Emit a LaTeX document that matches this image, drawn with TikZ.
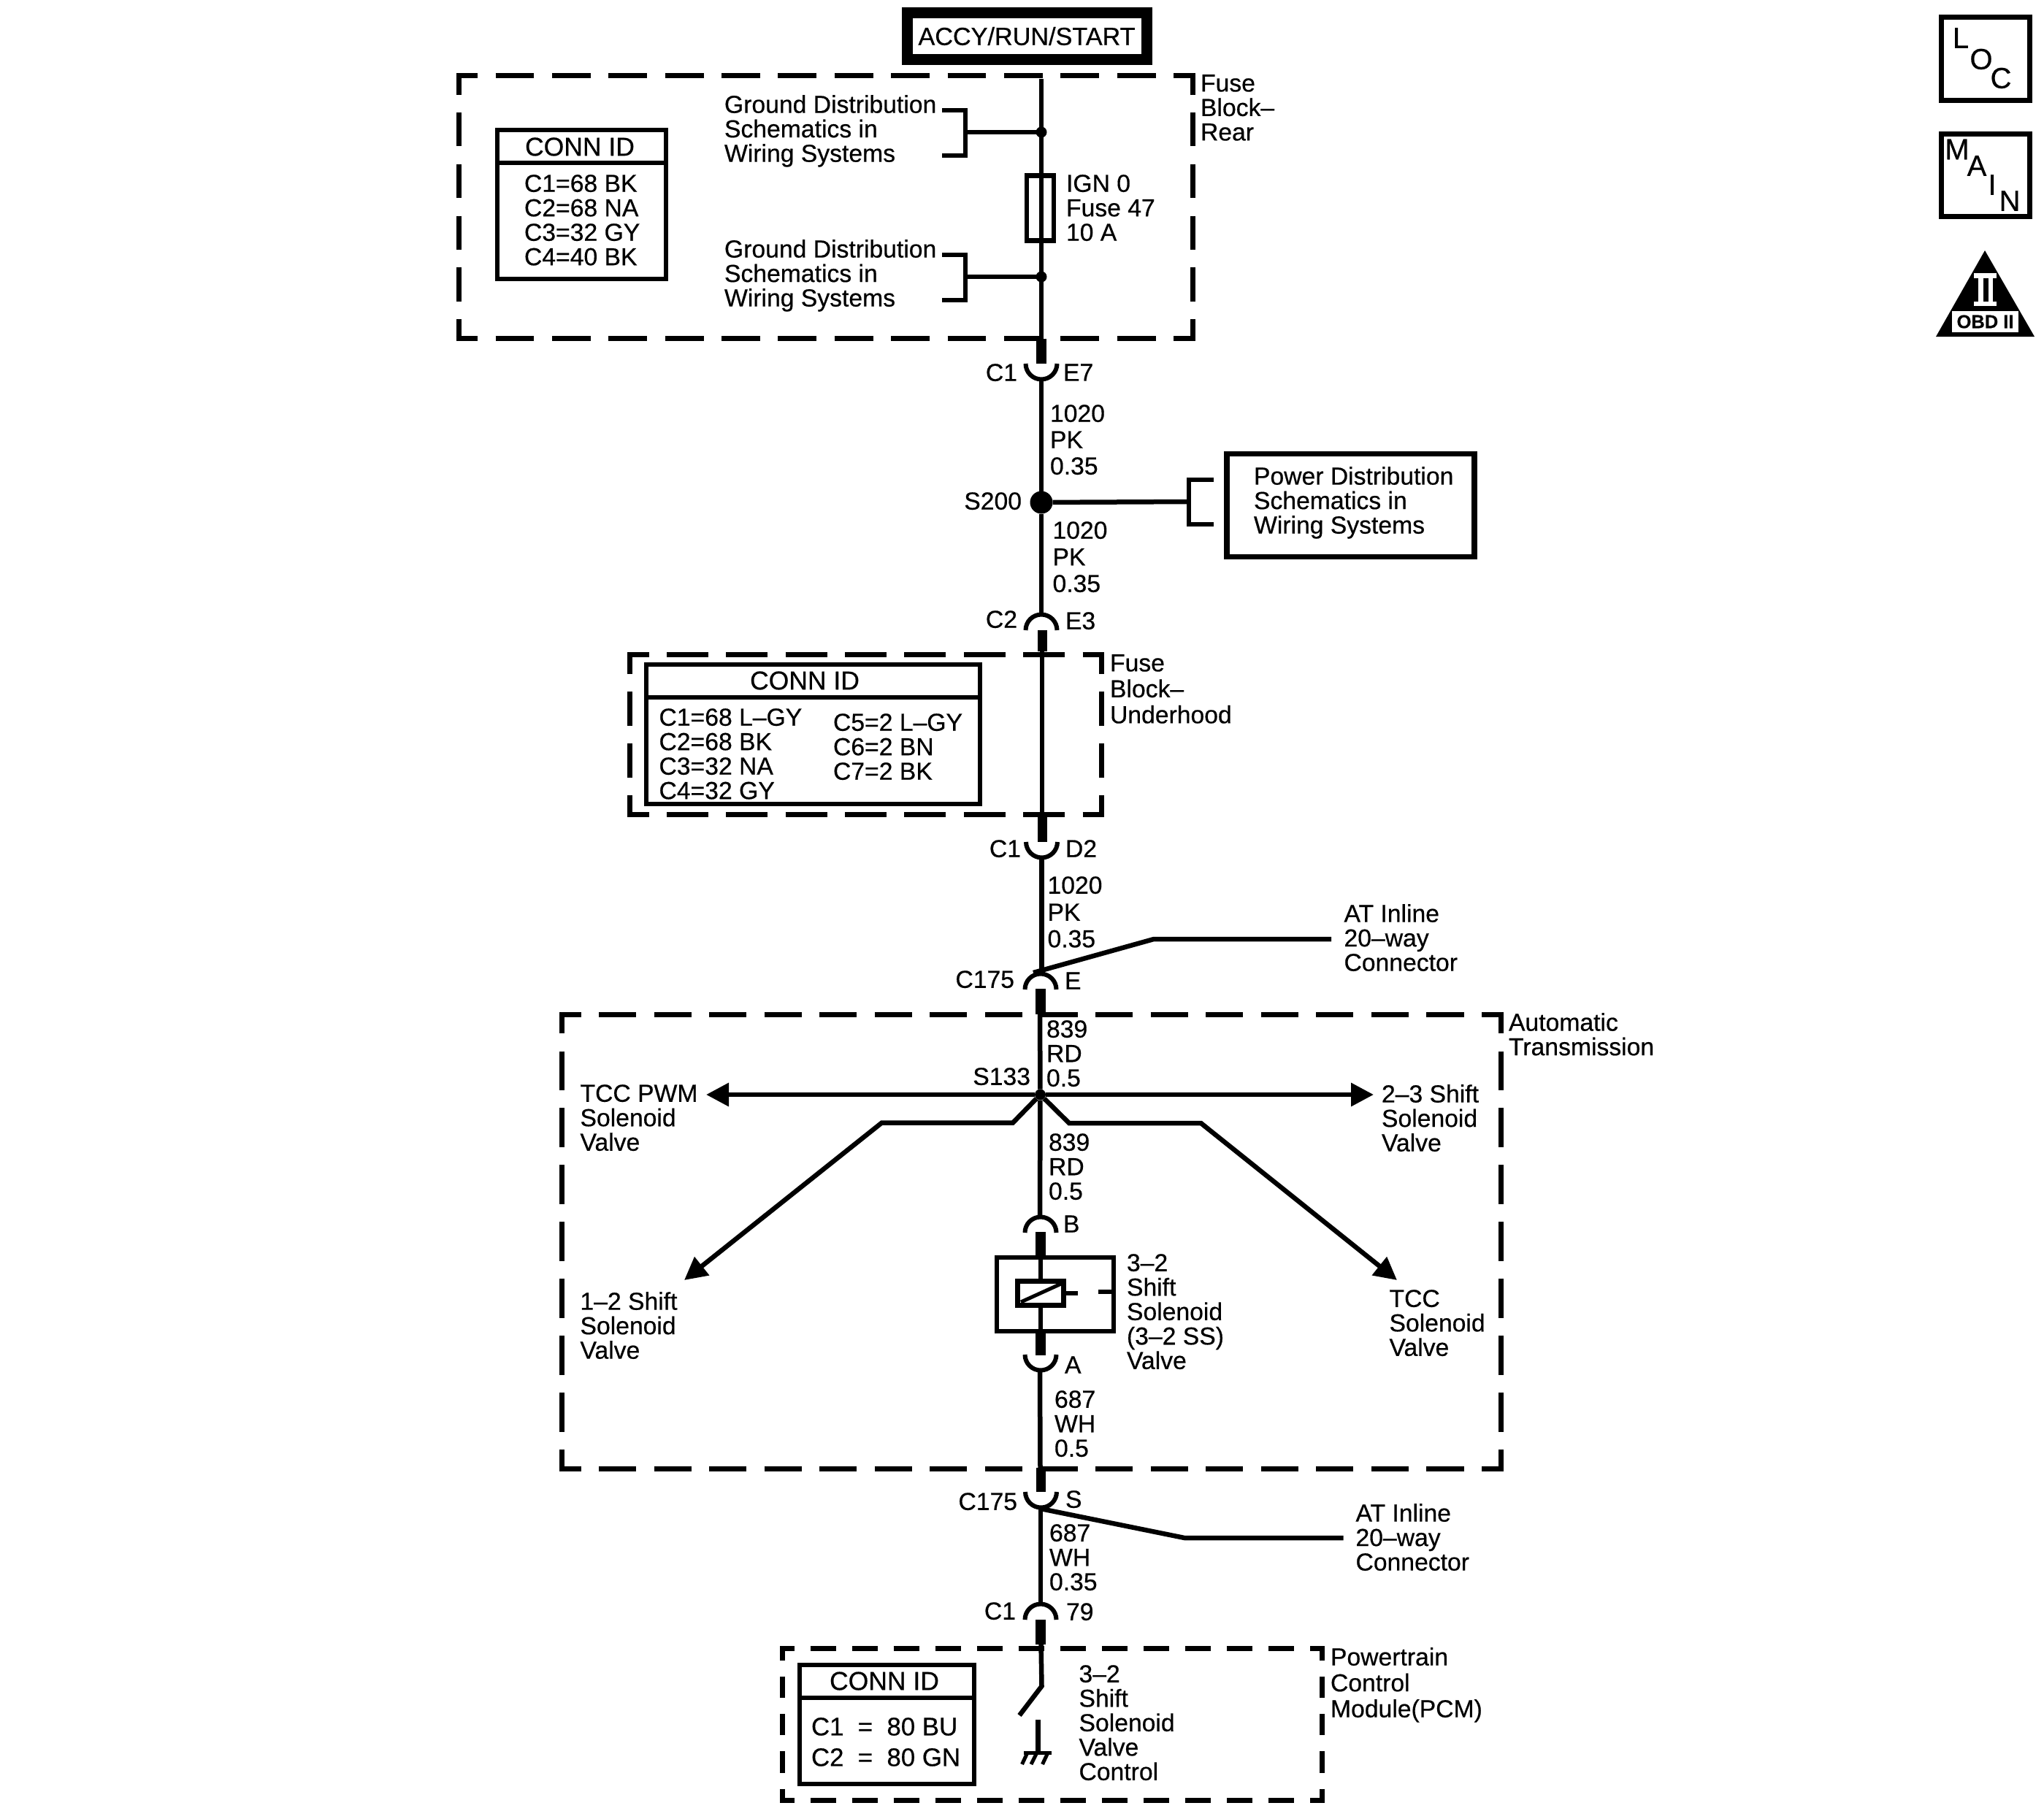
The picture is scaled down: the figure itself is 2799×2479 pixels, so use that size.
\documentclass[tikz,border=0pt]{standalone}
\usepackage{fontspec}
\setmainfont[FakeBold=0.5]{Liberation Sans}
\usetikzlibrary{arrows.meta}
\newcommand{\fsz}{\fontsize{33.7}{33.5}\selectfont}
\newcommand{\fszb}{\fontsize{35.5}{36}\selectfont}
\newcommand{\fszc}{\fontsize{34.8}{36}\selectfont}
\newcommand{\dbox}[8]{%
  \pgfmathsetmacro{\dw}{(#3-#1-2*#7-(#5+1)*#8)/#5}%
  \pgfmathsetmacro{\dh}{(#4-#2-2*#7-(#6+1)*#8)/#6}%
  \pgfmathsetmacro{\pw}{\dw-#7-3.5}%
  \pgfmathsetmacro{\ph}{\dh-#7-3.5}%
  \draw[dline,dash pattern=on \dw pt off #8pt,dash phase=\pw pt] (#1-3.5,#2) -- (#3+3.5,#2);
  \draw[dline,dash pattern=on \dw pt off #8pt,dash phase=\pw pt] (#1-3.5,#4) -- (#3+3.5,#4);
  \draw[dline,dash pattern=on \dh pt off #8pt,dash phase=\ph pt] (#1,#2-3.5) -- (#1,#4+3.5);
  \draw[dline,dash pattern=on \dh pt off #8pt,dash phase=\ph pt] (#3,#2-3.5) -- (#3,#4+3.5);
}
\tikzset{
  dline/.style={line width=7pt,line cap=butt},
  thinw/.style={line width=6.5pt},
  thickw/.style={line width=13.5pt},
  arcw/.style={line width=6pt},
  txt/.style={inner sep=0pt,outer sep=0pt,anchor=north west,align=left,xshift=-1pt,yshift=12.8pt,font=\fsz,execute at begin node=\strut},
  txtr/.style={txt,anchor=north east,align=right,xshift=3pt},
  txtc/.style={txt,anchor=north,align=center,xshift=1pt,yshift=1.2pt,font=\fszb},
  frame/.style={draw,line width=#1,inner sep=0pt,outer sep=0pt,anchor=north west},
  dot/.style={circle,fill,inner sep=0pt,outer sep=0pt,minimum size=#1},
  arroww/.style={thinw,-{Triangle[length=31pt,width=31pt]}},
  icon/.style={inner sep=0pt,outer sep=0pt,font=\fontsize{40}{40}\selectfont},
}
\begin{document}
\begin{tikzpicture}[x=1pt,y=-1pt,line join=miter]
\useasboundingbox (0,0) rectangle (2799,2479);
\fill[white] (0,0) rectangle (2799,2479);

% ---------- dashed enclosures
\dbox{628}{103.5}{1633}{463}{12}{4}{26}{24.5}
\dbox{862.5}{896.5}{1508.5}{1115}{7}{2}{26}{24.5}
\dbox{769.5}{1389}{2055}{2011}{16}{7}{26}{24.5}
\dbox{1071.5}{2257.5}{1810}{2465.5}{12}{3}{16}{22}

% ---------- named points on the harness
\coordinate (w0) at (1426,108);
\coordinate (c1a) at (1426,464);
\coordinate (c1b) at (1426,498);
\coordinate (c1c) at (1426,521);
\coordinate (c2a) at (1426,841);
\coordinate (c2b) at (1427.5,863);
\coordinate (c2c) at (1427.5,892);
\coordinate (c2d) at (1427,890);
\coordinate (c3a) at (1427,1118);
\coordinate (c3t) at (1427.5,1118);
\coordinate (c3b) at (1427.5,1153);
\coordinate (c3c) at (1426.5,1176);
\coordinate (c4a) at (1426.5,1327);
\coordinate (c4t) at (1425,1354);
\coordinate (c4b) at (1425,1389);
\coordinate (c4c) at (1424,1388);
\coordinate (c5a) at (1424,1666);
\coordinate (c5t) at (1425,1687);
\coordinate (c5b) at (1425,1722);
\coordinate (c5m) at (1425,1823);
\coordinate (c6t) at (1425,1823);
\coordinate (c6b) at (1425,1856);
\coordinate (c6c) at (1424,1879);
\coordinate (c7a) at (1424.5,2012);
\coordinate (c7t) at (1425.5,2010);
\coordinate (c7b) at (1425.5,2043);
\coordinate (c7c) at (1425,2066);
\coordinate (c8a) at (1425,2197);
\coordinate (c8t) at (1425,2218);
\coordinate (c8b) at (1425,2252);
\coordinate (sw0) at (1425.5,2250);
\coordinate (sw1) at (1426.5,2309);
\coordinate (sw2) at (1396,2349);
\coordinate (g0) at (1421.5,2355);
\coordinate (g1) at (1421.5,2400);

% ---------- junctions
\node[dot=15pt] (j1) at (1426,181) {};
\node[dot=15pt] (j2) at (1426,379) {};
\node[dot=31pt] (s200) at (1426,688) {};
\node[dot=15pt] (s133) at (1424.5,1499) {};

% ---------- top source box
\node[frame=15pt,minimum width=328pt,minimum height=64pt,anchor=center,font=\fontsize{34.2}{35}\selectfont] (accy) at (1406,49.5) {ACCY/RUN/START};

% ---------- wires
\draw[thinw] (w0) -- (c1a);
\draw[thickw] (c1a) -- (c1b);
\draw[arcw] (1404.5,498) arc[start angle=180,end angle=0,radius=21.5];
\draw[thinw] (c1c) -- (s200);
\draw[thinw] (s200) -- (c2a);
\draw[arcw] (1404.5,863) arc[start angle=180,end angle=360,radius=21.5];
\draw[thickw] (c2b) -- (c2c);
\draw[thinw] (c2d) -- (c3a);
\draw[thickw] (c3t) -- (c3b);
\draw[arcw] (1405,1153) arc[start angle=180,end angle=0,radius=21.5];
\draw[thinw] (c3c) -- (c4a);
\draw[arcw] (1403.5,1355) arc[start angle=180,end angle=360,radius=21.5];
\draw[thickw] (c4t) -- (c4b);
\draw[thinw] (c4c) -- (s133);
\draw[thinw] (s133) -- (c5a);
\draw[arcw] (1403.5,1688) arc[start angle=180,end angle=360,radius=21.5];
\draw[thickw] (c5t) -- (c5b);
\draw[thinw] (c5b) -- (c5m);
\draw[thickw] (c6t) -- (c6b);
\draw[arcw] (1403.5,1855) arc[start angle=180,end angle=0,radius=21.5];
\draw[thinw] (c6c) -- (c7a);
\draw[thickw] (c7t) -- (c7b);
\draw[arcw] (1404,2043) arc[start angle=180,end angle=0,radius=21.5];
\draw[thinw] (c7c) -- (c8a);
\draw[arcw] (1403.5,2218) arc[start angle=180,end angle=360,radius=21.5];
\draw[thickw] (c8t) -- (c8b);
\draw[thinw] (sw0) -- (sw1) -- (sw2);

% ---------- fuse
\node[frame=6.5pt,minimum width=37pt,minimum height=89pt] (fuse) at (1406,240.5) {};

% ---------- ground-distribution brackets
\coordinate (b1) at (1322,181);
\coordinate (b2) at (1322,379);
\draw[thinw] (j1) -- (b1);
\draw[thinw] (1290,151) -- (1322,151) -- (1322,213) -- (1290,213);
\draw[thinw] (j2) -- (b2);
\draw[thinw] (1290,349) -- (1322,349) -- (1322,411) -- (1290,411);

% ---------- power distribution
\node[frame=7.5pt,minimum width=339pt,minimum height=141pt] (pwr) at (1680,621.5) {};
\coordinate (b3) at (1628,687);
\draw[thinw] (s200) -- (b3);
\draw[thinw] (1662,657) -- (1628,657) -- (1628,718) -- (1662,718);
\node[txt] (pwrt) at (1718,652) {Power Distribution\\Schematics in\\Wiring Systems};

% ---------- conn id boxes
\node[frame=5.5pt,minimum width=231pt,minimum height=204pt] (conn1) at (681,178) {};
\draw[line width=5.5pt] (conn1.west |- 0,223) -- (conn1.east |- 0,223);
\node[txtc] (conn1t) at (794,202) {CONN ID};
\node[txt] (conn1l) at (719,252) {C1=68 BK\\C2=68 NA\\C3=32 GY\\C4=40 BK};

\node[frame=5.5pt,minimum width=457pt,minimum height=191pt] (conn2) at (885,910) {};
\draw[line width=5.5pt] (conn2.west |- 0,955) -- (conn2.east |- 0,955);
\node[txtc] (conn2t) at (1102,933) {CONN ID};
\node[txt] (conn2l) at (903.5,983) {C1=68 L--GY\\C2=68 BK\\C3=32 NA\\C4=32 GY};
\node[txt] (conn2r) at (1142,990) {C5=2 L--GY\\C6=2 BN\\C7=2 BK};

\node[frame=5.5pt,minimum width=239pt,minimum height=163pt] (conn3) at (1095,2280) {};
\draw[line width=5.5pt] (conn3.west |- 0,2325) -- (conn3.east |- 0,2325);
\node[txtc] (conn3t) at (1211,2303) {CONN ID};
\node[txt,font=\fszc] (conn3a) at (1112,2364) {C1~~=~~80 BU};
\node[txt,font=\fszc] (conn3b) at (1112,2406) {C2~~=~~80 GN};

% ---------- labels
\node[txt] (gd1) at (993,143) {Ground Distribution\\Schematics in\\Wiring Systems};
\node[txt] (gd2) at (993,341) {Ground Distribution\\Schematics in\\Wiring Systems};
\node[txt] (ign) at (1461,252) {IGN 0\\Fuse 47\\10 A};
\node[txt] (fbr) at (1645,115) {Fuse\\Block--\\Rear};
\node[txtr] (lc1) at (1391,511) {C1};
\node[txt] (le7) at (1457,511) {E7};
\node[txt] (w1) at (1439,567) {1020\\[2.5pt]PK\\[2.5pt]0.35};
\node[txtr] (ls200) at (1397,687) {S200};
\node[txt] (w2) at (1442.5,727) {1020\\[3pt]PK\\[3pt]0.35};
\node[txtr] (lc2) at (1391,849) {C2};
\node[txt] (le3) at (1460,851) {E3};
\node[txt] (fbu) at (1521,909) {Fuse\\[2pt]Block--\\[2pt]Underhood};
\node[txtr] (lc1b) at (1396,1163) {C1};
\node[txt] (ld2) at (1460,1163) {D2};
\node[txt] (w3) at (1435.5,1213) {1020\\[3.5pt]PK\\[3pt]0.35};
\node[txt] (at1) at (1841.5,1251) {AT Inline\\20--way\\Connector};
\node[txtr] (lc175) at (1387,1342) {C175};
\node[txt] (le) at (1459,1344) {E};
\node[txt] (aut) at (2067,1400) {Automatic\\Transmission};
\node[txt] (w4) at (1434,1410) {839\\RD\\0.5};
\node[txtr] (ls133) at (1409,1475) {S133};
\node[txt] (ltp) at (795.5,1498) {TCC PWM\\Solenoid\\Valve};
\node[txt] (l23) at (1893,1498) {2--3 Shift\\Solenoid\\Valve};
\node[txt] (w5) at (1437,1565) {839\\RD\\0.5};
\node[txt] (lb) at (1457,1677) {B};
\node[txt] (l32) at (1544,1730) {3--2\\Shift\\Solenoid\\(3--2 SS)\\Valve};
\node[txt] (ltcc) at (1903.5,1779) {TCC\\Solenoid\\Valve};
\node[txt] (l12) at (795.5,1782) {1--2 Shift\\Solenoid\\Valve};
\node[txt] (la) at (1459,1870) {A};
\node[txt] (w6) at (1445,1917) {687\\WH\\0.5};
\node[txtr] (lc175b) at (1391,2057) {C175};
\node[txt] (ls) at (1460,2054) {S};
\node[txt] (at2) at (1857.5,2072) {AT Inline\\20--way\\Connector};
\node[txt] (w7) at (1438,2100) {687\\WH\\0.35};
\node[txtr] (lc1c) at (1389,2207) {C1};
\node[txt] (l79) at (1461,2208) {79};
\node[txt] (pcm) at (1823,2269) {Powertrain\\[2pt]Control\\[2pt]Module(PCM)};
\node[txt] (l32c) at (1478.5,2293) {3--2\\Shift\\Solenoid\\Valve\\Control};

% ---------- S133 branches
\coordinate (a1) at (967,1499);
\coordinate (a2) at (1881,1499);
\coordinate (a3) at (937,1753);
\coordinate (a4) at (1913,1753);
\draw[arroww] (s133) -- (a1);
\draw[arroww] (s133) -- (a2);
\draw[arroww] (s133) -- (1387,1537.5) -- (1207.5,1537.5) -- (a3);
\draw[arroww] (s133) -- (1464,1538) -- (1644.5,1538) -- (a4);

% ---------- AT inline leaders
\coordinate (ld1) at (1823,1286);
\coordinate (ld2c) at (1839.5,2106);
\draw[thinw] (1415,1332) -- (1580,1286) -- (ld1);
\draw[thinw] (c7c) -- (1622,2106) -- (ld2c);

% ---------- solenoid
\node[frame=6pt,minimum width=160pt,minimum height=101pt] (sol) at (1365,1722) {};
\node[frame=6.8pt,fill=white,minimum width=63pt,minimum height=33pt] (coil) at (1393.5,1754.5) {};
\draw[line width=5pt] (1398,1783) -- (1453,1758);
\draw[line width=6pt] (coil.east) -- (1476,1771);
\draw[line width=6pt] (1504,1769) -- (1522,1769);

% ---------- ground
\draw[thinw] (g0) -- (g1);
\draw[line width=5pt] (1402,2400) -- (1440,2400);
\draw[line width=5pt] (1407,2400) -- (1399.5,2416);
\draw[line width=5pt] (1420,2400) -- (1412,2416);
\draw[line width=5pt] (1435,2400) -- (1427.5,2416);

% ---------- LOC / MAIN / OBD II icons
\node[frame=7pt,minimum width=120.5pt,minimum height=113.5pt] (loc) at (2658.5,23.5) {};
\node[icon] (locl) at (2685,52) {L};
\node[icon] (loco) at (2713,81) {O};
\node[icon] (locc) at (2740,107) {C};
\node[frame=7pt,minimum width=120.5pt,minimum height=113pt] (main) at (2658.5,183.5) {};
\node[icon] (mainm) at (2680,204.5) {M};
\node[icon] (maina) at (2707,227) {A};
\node[icon] (maini) at (2728,253) {I};
\node[icon] (mainn) at (2752,275) {N};
\fill (2718,343) -- (2786,461) -- (2651,461) -- cycle;
\fill[white] (2703,374) rectangle (2734,381);
\fill[white] (2703,413) rectangle (2734,419);
\fill[white] (2709,381) rectangle (2715.5,413);
\fill[white] (2722.5,381) rectangle (2729,413);
\node[fill=white,inner sep=0pt,outer sep=0pt,minimum width=91pt,minimum height=29pt,font=\fontsize{25.5}{26}\selectfont\bfseries] (obd) at (2718.5,440.5) {OBD II};
\end{tikzpicture}
\end{document}
